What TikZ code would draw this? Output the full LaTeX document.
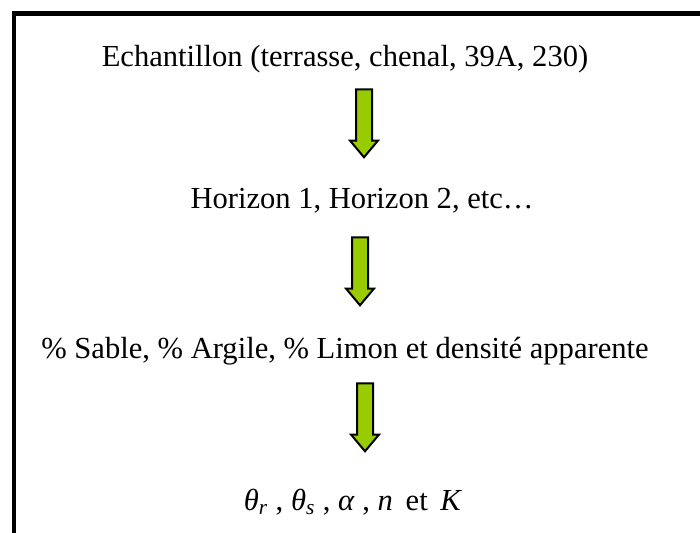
\documentclass[tikz,border=0pt]{standalone}
\usepackage{fontspec}
\setmainfont{Liberation Serif}
\usetikzlibrary{shapes.arrows}
\definecolor{arrowgreen}{RGB}{153,204,0}
\tikzset{
  steptext/.style={anchor=base, font=\fontsize{17.4}{20}\selectfont, inner sep=0pt},
  greenarrow/.style={single arrow, draw=black, fill=arrowgreen, line width=0.04cm,
    minimum height=1.36cm, minimum width=0.54cm, inner sep=0.14cm,
    single arrow head extend=0.12cm, single arrow tip angle=80, shape border rotate=270}
}
\begin{document}
\begin{tikzpicture}[x=0.02cm, y=-0.02cm]
\useasboundingbox (0,0) rectangle (700,532);
\clip (0,0) rectangle (700,532);
\draw[line width=0.1cm] (14,600) |- (720,13);

\node[steptext] (s1) at (345,66) {Echantillon (terrasse, chenal, 39A, 230)};
\node[steptext] (s2) at (362,208) {Horizon 1, Horizon 2, etc…};
\node[steptext] (s3) at (345,358) {\% Sable, \% Argile, \% Limon et densité apparente};
\node[steptext] (s4) at (353,510) {\textit{θ}\textsubscript{\textit{r}} , \textit{θ}\textsubscript{\textit{s}} , \textit{α} , \textit{n}\, et\, \textit{K}};

\node[greenarrow] (a1) at (364,118.5) {};
\node[greenarrow] (a2) at (360,266.5) {};
\node[greenarrow] (a3) at (365,412.5) {};
\end{tikzpicture}
\end{document}
